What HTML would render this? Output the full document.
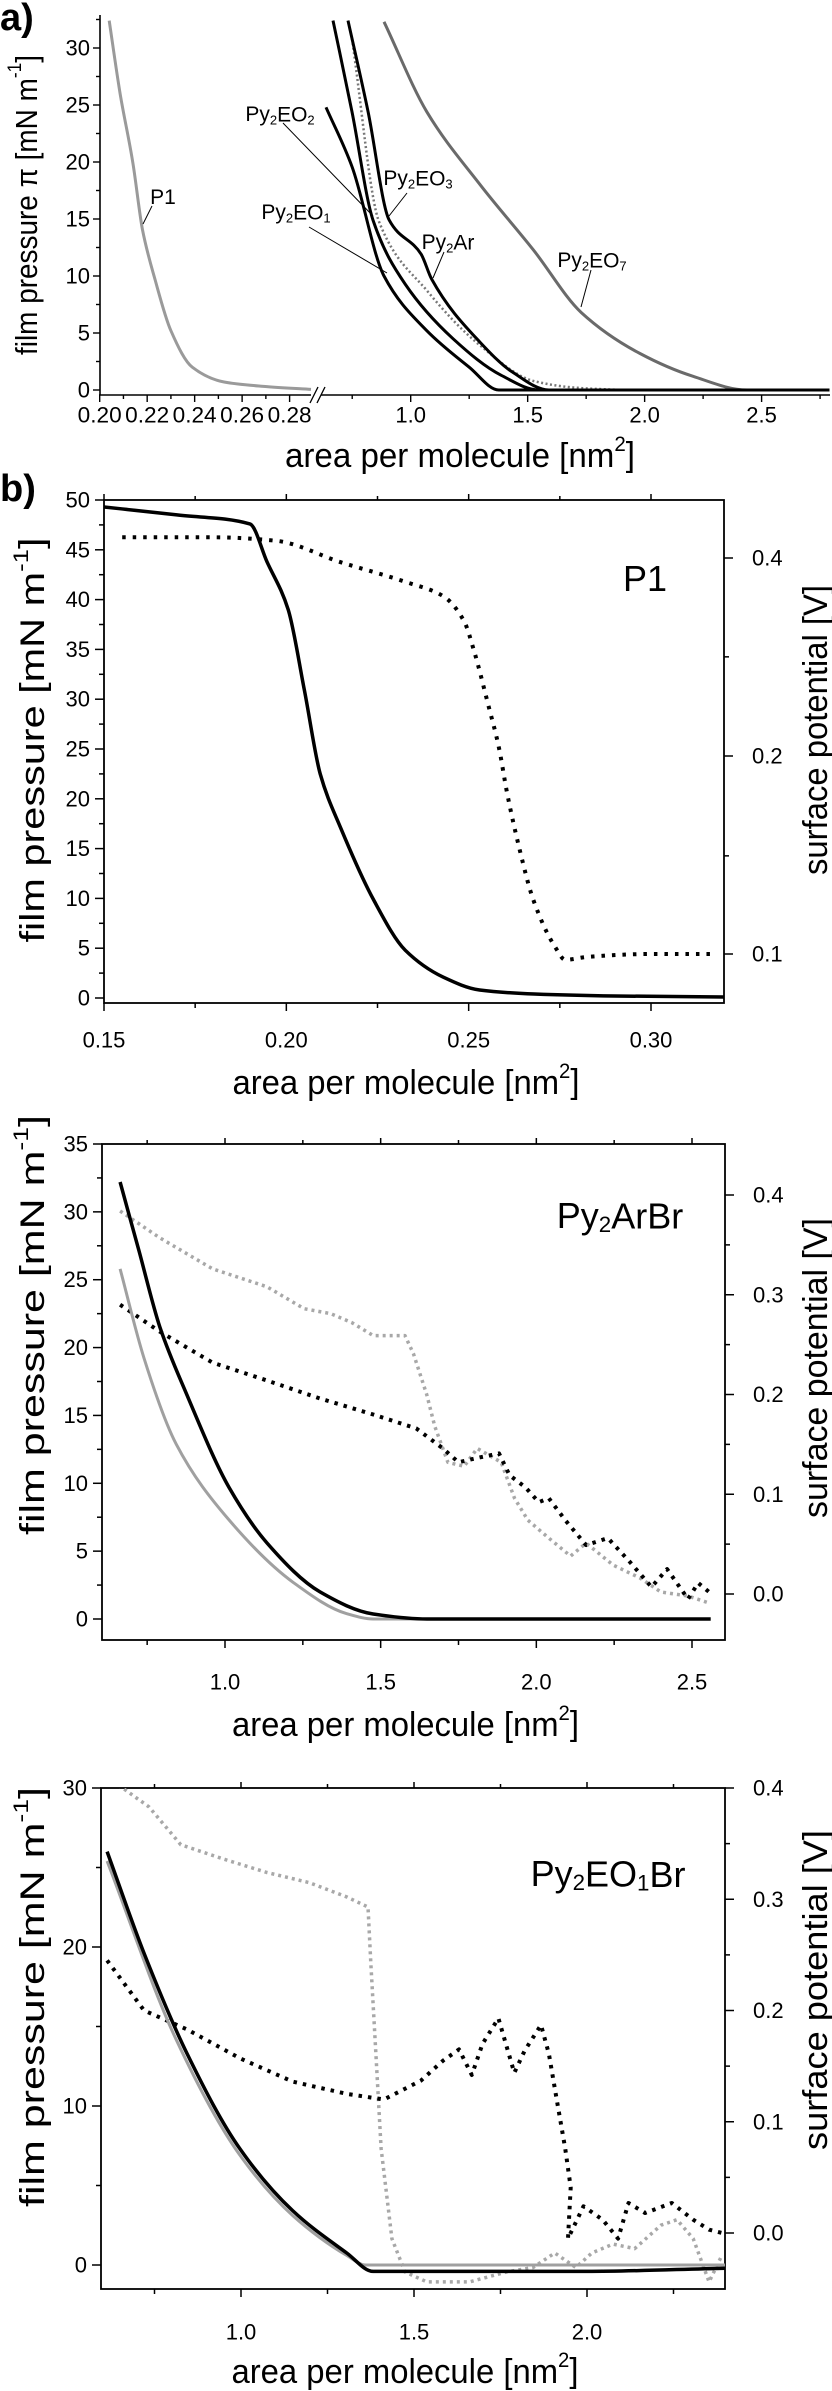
<!DOCTYPE html>
<html><head><meta charset="utf-8">
<style>
html,body{margin:0;padding:0;background:#fff;}
svg{display:block;font-family:"Liberation Sans",Arial,sans-serif;}
</style></head>
<body>
<svg id="fig" width="832" height="2391" viewBox="0 0 832 2391" xmlns="http://www.w3.org/2000/svg">
</svg>
<script>
// ===== Panel a data =====
const p1A_area = [0.204,0.2086,0.214,0.218,0.2233,0.23,0.239,0.2524,0.2704,0.289];
const p1A_pi   = [32.4,26,19.9,14.1,9.7,5.2,2.0,0.7,0.3,0.05];
const eo1A_area = [0.638,0.749,0.886,1.069,1.25,1.377,2.79];
const eo1A_pi   = [24.8,19.6,10,5.2,2.0,0,0];
const eo2A_area = [0.668,0.749,0.839,0.976,1.181,1.386,1.548,2.79];
const eo2A_pi   = [32.4,24.4,14.9,9.3,4.5,1.3,0,0];
const eo3A_area = [0.732,0.818,0.908,1.045,1.09,1.296,1.433,1.591,2.79];
const eo3A_pi   = [32.4,24.4,14.9,11.9,9.7,4.2,1.6,0,0];
const arA_area = [0.749,0.864,1.07,1.297,1.524,1.706,1.9];
const arA_pi   = [30.8,14.8,8.7,3.9,0.8,0.2,0];
const eo7A_area = [0.886,1.069,1.297,1.524,1.729,1.98,2.207,2.437,2.79];
const eo7A_pi   = [32.3,24.4,18,12.3,6.8,3.2,1.2,0,0];
const aLeftTicks = [0.20,0.22,0.24,0.26,0.28];
const aRightTicks = [1.0,1.5,2.0,2.5];
const aYTicks = [0,5,10,15,20,25,30];

// ===== P1 panel =====
const p1_area = [0.15,0.17,0.19,0.1947,0.2005,0.2049,0.2093,0.215,0.224,0.2326,0.243,0.253,0.268,0.29,0.32];
const p1_pi   = [49.3,48.5,47.6,43.8,39,31,22.5,17,9.8,4.8,2.1,0.8,0.4,0.2,0.1];
const p1sp_area = [0.155,0.18,0.197,0.215,0.2326,0.243,0.2487,0.2517,0.2553,0.2583,0.2605,0.264,0.2677,0.2737,0.2765,0.2825,0.30,0.318];
const p1sp_v    = [0.43,0.43,0.425,0.394,0.368,0.35,0.321,0.286,0.24,0.206,0.176,0.144,0.121,0.1025,0.098,0.099,0.1,0.1];
const p1XTicks = [0.15,0.20,0.25,0.30];
const p1YTicks = [0,5,10,15,20,25,30,35,40,45,50];
const p1VTicks = [0.1,0.2,0.4];

// ===== Py2ArBr panel =====
const arb_area = [0.663,0.724,0.791,0.878,1.013,1.135,1.305,1.476,1.649,2.56];
const arb_pi   = [32.2,27.1,21.5,16.5,9.7,5.6,2.0,0.37,0,0];
const arg_area = [0.663,0.74,0.843,1.013,1.219,1.39,1.476,2.0];
const arg_pi   = [25.8,19.2,12.9,7.3,2.7,0.4,0,0];
const arbsp_area = [0.663,0.791,0.96,1.135,1.305,1.476,1.614,1.70,1.75,1.82,1.88,1.914,1.965,2.008,2.04,2.093,2.16,2.23,2.298,2.37,2.42,2.487,2.52,2.555];
const arbsp_v    = [0.29,0.263,0.232,0.214,0.196,0.18,0.166,0.146,0.132,0.137,0.141,0.119,0.107,0.092,0.096,0.074,0.049,0.056,0.033,0.007,0.025,-0.005,0.011,0.002];
const argsp_area = [0.663,0.791,0.96,1.135,1.254,1.34,1.408,1.476,1.578,1.605,1.648,1.674,1.716,1.768,1.81,1.887,1.93,1.973,2.04,2.11,2.16,2.247,2.333,2.4,2.487,2.555];
const argsp_v    = [0.384,0.357,0.326,0.308,0.286,0.281,0.272,0.259,0.259,0.241,0.2,0.168,0.132,0.128,0.146,0.132,0.096,0.074,0.056,0.038,0.051,0.029,0.016,0.002,-0.002,-0.009];
const arXTicks = [1.0,1.5,2.0,2.5];
const arYTicks = [0,5,10,15,20,25,30,35];
const arVTicks = [0.0,0.1,0.2,0.3,0.4];

// ===== Py2EO1Br panel =====
const eob_area = [0.613,0.72,0.844,0.997,1.15,1.306,1.382,2.0,2.4];
const eob_pi   = [26,19.6,13.3,7.3,3.4,0.75,-0.4,-0.4,-0.2];
const eog_area = [0.613,0.812,0.997,1.15,1.306,1.36,2.4];
const eog_pi   = [25.4,14.2,6.9,3.1,0.6,0,0];
const eobsp_area = [0.613,0.72,0.844,0.997,1.15,1.306,1.413,1.52,1.584,1.63,1.667,1.698,1.744,1.79,1.82,1.867,1.89,1.913,1.937,1.953,1.945,1.99,2.045,2.09,2.12,2.168,2.245,2.307,2.353,2.39];
const eobsp_v    = [0.245,0.2,0.183,0.157,0.136,0.125,0.12,0.137,0.155,0.165,0.142,0.17,0.193,0.144,0.164,0.187,0.161,0.119,0.076,0.041,-0.005,0.024,0.012,-0.005,0.027,0.018,0.027,0.012,0.003,0.0];
const eogsp_area = [0.613,0.734,0.826,0.951,1.075,1.197,1.306,1.367,1.375,1.39,1.405,1.436,1.474,1.537,1.66,1.768,1.844,1.907,1.968,2.014,2.075,2.138,2.214,2.26,2.307,2.353,2.39];
const eogsp_v    = [0.41,0.383,0.349,0.336,0.324,0.315,0.302,0.293,0.243,0.161,0.076,-0.005,-0.035,-0.044,-0.044,-0.035,-0.031,-0.018,-0.031,-0.018,-0.01,-0.014,0.007,0.012,-0.005,-0.044,-0.02];
const eoXTicks = [1.0,1.5,2.0];
const eoYTicks = [0,10,20,30];
const eoVTicks = [0.0,0.1,0.2,0.3,0.4];

const NS = "http://www.w3.org/2000/svg";
const fig = document.getElementById('fig');
function mk(tag, attrs, parent){
  const e = document.createElementNS(NS, tag);
  for (const k in attrs) e.setAttribute(k, attrs[k]);
  (parent||fig).appendChild(e);
  return e;
}
function linScale(d0,d1,r0,r1){ return v => r0 + (v-d0)/(d1-d0)*(r1-r0); }
function pathFrom(xs, ys, fx, fy){
  let d='';
  for(let i=0;i<xs.length;i++){ d += (i?'L':'M') + fx(xs[i]).toFixed(1)+','+fy(ys[i]).toFixed(1); }
  return d;
}
// monotone cubic (Fritsch-Carlson) in pixel space, x increasing
function smoothFrom(xs, ys, fx, fy){
  const X = xs.map(fx), Y = ys.map(fy), n = X.length;
  const dx=[], m=[];
  for(let i=0;i<n-1;i++){ dx[i]=X[i+1]-X[i]; m[i]=(Y[i+1]-Y[i])/dx[i]; }
  const t=[m[0]];
  for(let i=1;i<n-1;i++){
    if(m[i-1]*m[i]<=0) t[i]=0;
    else { const w1=2*dx[i]+dx[i-1], w2=dx[i]+2*dx[i-1]; t[i]=(w1+w2)/(w1/m[i-1]+w2/m[i]); }
  }
  t[n-1]=m[n-2];
  let d='M'+X[0].toFixed(1)+','+Y[0].toFixed(1);
  for(let i=0;i<n-1;i++){
    const h=dx[i]/3;
    d+='C'+(X[i]+h).toFixed(1)+','+(Y[i]+t[i]*h).toFixed(1)+' '+(X[i+1]-h).toFixed(1)+','+(Y[i+1]-t[i+1]*h).toFixed(1)+' '+X[i+1].toFixed(1)+','+Y[i+1].toFixed(1);
  }
  return d;
}
function line(x1,y1,x2,y2,parent,w){ return mk('line',{x1,y1,x2,y2,stroke:'#000','stroke-width':w||1.6},parent); }
function text(x,y,str,size,anchor,parent){
  const t = mk('text',{x,y,'font-size':size,'text-anchor':anchor||'middle','dominant-baseline':'central',fill:'#000'},parent);
  t.textContent = str; return t;
}
function subText(x,y,parts,size,anchor,parent){
  const t = mk('text',{x,y,'font-size':size,'text-anchor':anchor||'middle','dominant-baseline':'central',fill:'#000'},parent);
  parts.forEach(p=>{
    const s = mk('tspan',{},t);
    if(p[1]==='sub'){ s.setAttribute('font-size',size*0.62); s.setAttribute('dy',size*0.25); }
    else if(p[1]==='sup'){ s.setAttribute('font-size',size*0.62); s.setAttribute('dy',-size*0.35); }
    else if(p[1]==='base'){ s.setAttribute('dy',p[2]); }
    s.textContent = p[0];
  });
  return t;
}

// ================= Panel a =================
const ga = mk('g',{});


const la = mk('text',{x:0,y:18,'font-size':38,'font-weight':'bold','dominant-baseline':'central'},ga);
la.textContent='a)';


const aY = linScale(0,30,390,48);
const aXL = linScale(0.20,0.28,99.7,289.6);
const aXR = linScale(1.0,2.5,410.7,761.6);
const aXaxisY = 395;
line(100,15,100,aXaxisY,ga);
for(let v=0; v<=32.5; v+=2.5){
  const maj = (v%5===0);
  line(100-(maj?7:4),aY(v),100,aY(v),ga,1.4);
}
aYTicks.forEach(v=>{ const t=text(90,aY(v),String(v),22,'end',ga);   });
line(99,aXaxisY,311,aXaxisY,ga);
line(321,aXaxisY,830,aXaxisY,ga);
line(310,aXaxisY+8,318,aXaxisY-8,ga,1.3);
line(317,aXaxisY+8,325,aXaxisY-8,ga,1.3);
for(let v=0.20; v<=0.2851; v+=0.01){
  const maj = Math.abs((v*100)%2)<0.01 || Math.abs((v*100)%2-2)<0.01;
  line(aXL(v),aXaxisY,aXL(v),aXaxisY+(maj?7:4),ga,1.4);
}
aLeftTicks.forEach(v=>{ const t=text(aXL(v),415,v.toFixed(2),22,'middle',ga);   t.setAttribute('textLength',44); t.setAttribute('lengthAdjust','spacingAndGlyphs'); });
for(let v=0.75; v<=2.76; v+=0.25){
  const maj = Math.abs(v*2-Math.round(v*2))<0.01;
  line(aXR(v),aXaxisY,aXR(v),aXaxisY+(maj?7:4),ga,1.4);
}
aRightTicks.forEach(v=>{ const t=text(aXR(v),415,v.toFixed(1),22,'middle',ga);   });
const aT = subText(460,456,[['area per molecule [nm'],['2','sup'],[']','base',11]],34,'middle',ga);
aT.setAttribute('textLength',350); aT.setAttribute('lengthAdjust','spacingAndGlyphs');
 
const aYT = subText(0,0,[['film pressure π [mN m'],['-1','sup'],[']','base',11]],31,'middle',ga);
aYT.setAttribute('transform','translate(26,205) rotate(-90)');
aYT.setAttribute('textLength',300); aYT.setAttribute('lengthAdjust','spacingAndGlyphs');
 
const clipA = mk('clipPath',{id:'clipA'},ga); mk('rect',{x:100,y:15,width:732,height:382},clipA);
const cg = mk('g',{'clip-path':'url(#clipA)'},ga);
let c;
c = mk('path',{d:smoothFrom(p1A_area,p1A_pi,aXL,aY),fill:'none',stroke:'#9a9a9a','stroke-width':3},cg);
 
c = mk('path',{d:smoothFrom(eo7A_area,eo7A_pi,aXR,aY),fill:'none',stroke:'#6a6a6a','stroke-width':3},cg);
 
c = mk('path',{d:smoothFrom(arA_area,arA_pi,aXR,aY),fill:'none',stroke:'#777','stroke-width':2.5,'stroke-dasharray':'2 2.5'},cg);
 
c = mk('path',{d:smoothFrom(eo1A_area,eo1A_pi,aXR,aY),fill:'none',stroke:'#000','stroke-width':3},cg);
 
c = mk('path',{d:smoothFrom(eo2A_area,eo2A_pi,aXR,aY),fill:'none',stroke:'#000','stroke-width':3},cg);
 
c = mk('path',{d:smoothFrom(eo3A_area,eo3A_pi,aXR,aY),fill:'none',stroke:'#000','stroke-width':3},cg);
 
function aLabel(x,y,parts,lx1,ly1,lx2,ly2,name){
  const t = subText(x,y,parts,21,'middle',ga);
   
  line(lx1,ly1,lx2,ly2,ga,1);
}
aLabel(163,197,[['P1']],152,206,143,224,'p1-label');
aLabel(280,114,[['Py'],['2','sub'],['EO','base',-5],['2','sub']],283,123,373,216,'py2eo2-label');
aLabel(418,178,[['Py'],['2','sub'],['EO','base',-5],['3','sub']],407,193,389,216,'py2eo3-label');
aLabel(296,212,[['Py'],['2','sub'],['EO','base',-5],['1','sub']],309,227,387,273,'py2eo1-label');
aLabel(448,242,[['Py'],['2','sub'],['Ar','base',-5]],444,252,433,278,'py2ar-label');
aLabel(592,260,[['Py'],['2','sub'],['EO','base',-5],['7','sub']],591,270,581,307,'py2eo7-label');

const lb = mk('text',{x:0,y:489,'font-size':38,'font-weight':'bold','dominant-baseline':'central'});
lb.textContent='b)';



function panel(o){
  const g = mk('g',{});
  
  
  const {L,R,T,B} = o;
  mk('rect',{x:L,y:T,width:R-L,height:B-T,fill:'none',stroke:'#000','stroke-width':1.8},g);
  o.yTicksAll.forEach(v=>{ const maj=o.yTicks.includes(v); line(L-(maj?9:5),o.fy(v),L,o.fy(v),g,1.5); });
  o.yTicks.forEach(v=>{ const t=text(L-14,o.fy(v),String(v),22,'end',g);   });
  o.vTicksAll.forEach(v=>{ const maj=o.vTicks.some(w=>Math.abs(w-v)<1e-6); line(R,o.fv(v),R+(maj?9:5),o.fv(v),g,1.5); });
  o.vTicks.forEach(v=>{ const t=text(R+28,o.fv(v),v.toFixed(1),22,'start',g);   });
  o.xTicksAll.forEach(v=>{ const maj=o.xTicks.some(w=>Math.abs(w-v)<1e-6); const x=o.fx(v); line(x,B,x,B+(maj?8:5),g,1.5); line(x,T,x,T-(maj?6:4),g,1.5); });
  o.xTicks.forEach(v=>{ const t=text(o.fx(v),o.xLabY,v.toFixed(o.xDec),22,'middle',g);   });
  const xt = subText((L+R)/2-8,o.xTitleY,[['area per molecule [nm'],['2','sup'],[']','base',11]],34,'middle',g);
  xt.setAttribute('textLength',347); xt.setAttribute('lengthAdjust','spacingAndGlyphs');
   
  const yt = subText(0,0,[['film pressure [mN m'],['-1','sup'],[']','base',11]],34,'middle',g);
  yt.setAttribute('transform','translate(33,'+o.yTitleC+') rotate(-90)');
  yt.setAttribute('textLength',o.yTitleLen); yt.setAttribute('lengthAdjust','spacingAndGlyphs');
   
  const vt = text(0,0,'surface potential [V]',34,'middle',g);
  vt.setAttribute('transform','translate(816,'+o.vTitleC+') rotate(-90)');
  vt.setAttribute('textLength',o.vTitleLen); vt.setAttribute('lengthAdjust','spacingAndGlyphs');
   
  const nm = subText(o.nameX,o.nameY,o.nameParts,o.nameSize,'middle',g);
   
  const cid='clip'+o.name;
  const cp = mk('clipPath',{id:cid},g); mk('rect',{x:L,y:T,width:R-L,height:B-T},cp);
  const dg = mk('g',{'clip-path':'url(#'+cid+')'},g);
  return dg;
}
function series(dg, xs, ys, fx, fy, color, width, dash, name, smooth){
  const a = {d:(smooth?smoothFrom:pathFrom)(xs,ys,fx,fy),fill:'none',stroke:color,'stroke-width':width,'stroke-linejoin':'round'};
  if(dash) a['stroke-dasharray']=dash;
  const p = mk('path',a,dg);
  
  
}
function range(a,b,s){ const r=[]; for(let v=a; v<=b+1e-9; v+=s) r.push(Math.round(v*1000)/1000); return r; }

{
  const fx = linScale(0.15,0.30,104,651);
  const fy = linScale(0,50,998,500);
  const fv = v => 954 - 198*Math.log2(v/0.1);
  const dg = panel({name:'p1-chart',L:104,R:724,T:500,B:1003,fx,fy,fv,
    yTicks:p1YTicks,yTicksAll:range(0,50,2.5),
    vTicks:p1VTicks,vTicksAll:[0.1,0.141,0.2,0.283,0.4],
    xTicks:p1XTicks,xTicksAll:range(0.15,0.30,0.025),xDec:2,
    xLabY:1040,xTitleY:1083,yTitleC:740,yTitleLen:405,vTitleC:730,vTitleLen:290,
    nameX:645,nameY:578,nameParts:[['P1']],nameSize:36});
  series(dg,p1sp_area,p1sp_v,fx,fv,'#000',4,'3.5 7','p1-surface-potential',true);
  series(dg,p1_area,p1_pi,fx,fy,'#000',3.5,null,'p1-film-pressure',true);
}
{
  const fx = linScale(1.0,2.5,225,692);
  const fy = linScale(0,35,1619,1144);
  const fv = linScale(0,0.4,1594,1195);
  const dg = panel({name:'py2arbr-chart',L:102,R:725,T:1144,B:1640,fx,fy,fv,
    yTicks:arYTicks,yTicksAll:range(0,35,2.5),
    vTicks:arVTicks,vTicksAll:range(0,0.4,0.05),
    xTicks:arXTicks,xTicksAll:range(0.75,2.5,0.25),xDec:1,
    xLabY:1682,xTitleY:1725,yTitleC:1325,yTitleLen:420,vTitleC:1368,vTitleLen:300,
    nameX:620,nameY:1215,nameParts:[['Py'],['2','sub'],['ArBr','base',-8.5]],nameSize:36});
  series(dg,argsp_area,argsp_v,fx,fv,'#a8a8a8',3.5,'3 4','py2arbr-gray-surface-potential',false);
  series(dg,arbsp_area,arbsp_v,fx,fv,'#000',4,'3.5 6','py2arbr-black-surface-potential',false);
  series(dg,arg_area,arg_pi,fx,fy,'#a0a0a0',3,null,'py2arbr-gray-film-pressure',true);
  series(dg,arb_area,arb_pi,fx,fy,'#000',3.5,null,'py2arbr-black-film-pressure',true);
}
{
  const fx = linScale(1.0,2.0,241,587);
  const fy = linScale(0,30,2265,1788);
  const fv = linScale(0,0.4,2233,1788);
  const dg = panel({name:'py2eo1br-chart',L:101,R:725,T:1788,B:2289,fx,fy,fv,
    yTicks:eoYTicks,yTicksAll:range(0,30,5),
    vTicks:eoVTicks,vTicksAll:range(0,0.4,0.05),
    xTicks:eoXTicks,xTicksAll:range(0.75,2.25,0.25),xDec:1,
    xLabY:2332,xTitleY:2372,yTitleC:1997,yTitleLen:420,vTitleC:1990,vTitleLen:320,
    nameX:608,nameY:1873,nameParts:[['Py'],['2','sub'],['EO','base',-8.5],['1','sub'],['Br','base',-8.5]],nameSize:36});
  series(dg,eogsp_area,eogsp_v,fx,fv,'#a8a8a8',3.5,'3 4','py2eo1br-gray-surface-potential',false);
  series(dg,eobsp_area,eobsp_v,fx,fv,'#000',4,'3.5 6','py2eo1br-black-surface-potential',false);
  series(dg,eog_area,eog_pi,fx,fy,'#a0a0a0',3,null,'py2eo1br-gray-film-pressure',true);
  series(dg,eob_area,eob_pi,fx,fy,'#000',3.5,null,'py2eo1br-black-film-pressure',true);
}
</script>
</body></html>
